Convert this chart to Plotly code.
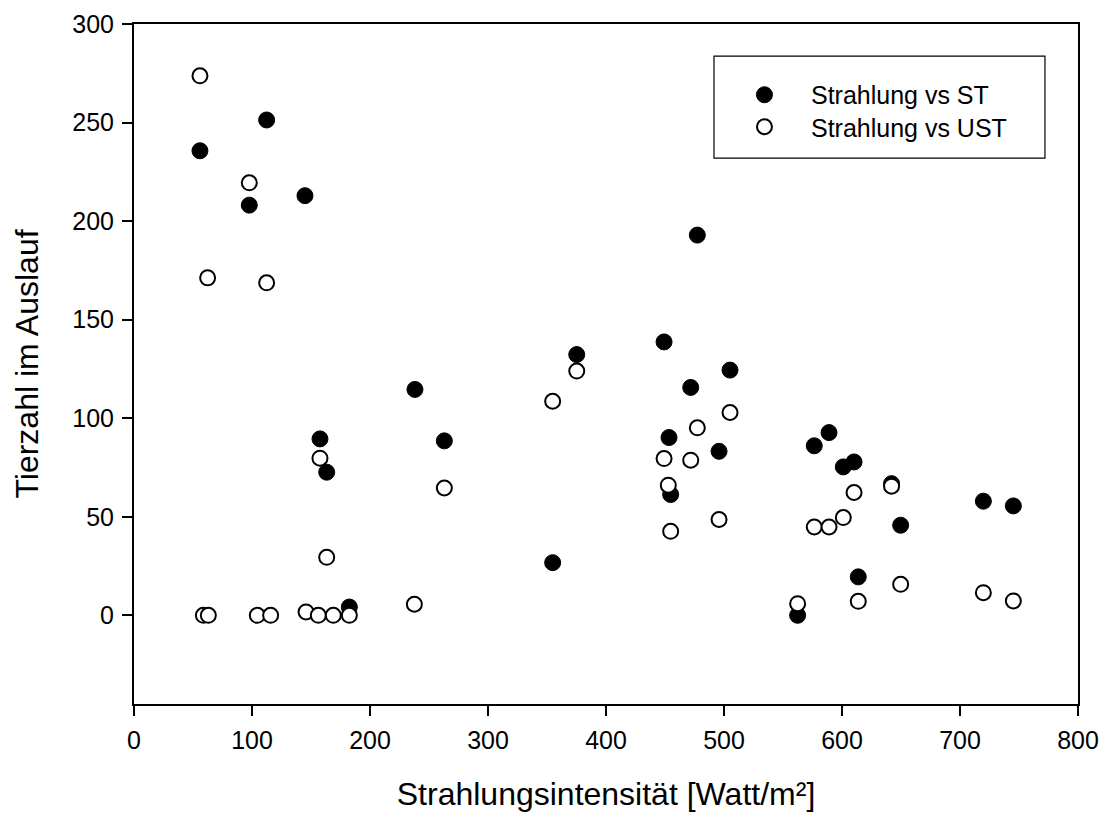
import plotly.graph_objects as go

# Strahlung vs ST (filled)
st_x = [55.9, 97.7, 112.4, 144.9, 157.6, 163.3, 182.5, 238.1, 263.0, 354.8,
        375.2, 449.2, 453.4, 454.8, 471.8, 477.4, 495.8, 505.1, 562.4, 576.5,
        589.0, 601.1, 610.2, 613.8, 642.0, 649.7, 719.8, 745.2]
st_y = [235.7, 208.1, 251.3, 212.9, 89.5, 72.6, 4.2, 114.6, 88.5, 26.7,
        132.3, 138.7, 90.2, 61.3, 115.6, 192.9, 83.2, 124.4, 0.0, 86.0,
        92.7, 75.3, 77.8, 19.5, 66.8, 45.7, 57.9, 55.5]

# Strahlung vs UST (open)
ust_x = [55.9, 62.4, 58.8, 63.0, 97.7, 104.5, 112.4, 115.8, 145.8, 156.2,
         157.6, 163.3, 168.9, 182.5, 237.6, 263.0, 354.8, 375.2, 449.2, 452.8,
         454.8, 471.8, 477.4, 495.8, 505.1, 562.4, 576.5, 589.0, 601.1, 610.2,
         613.8, 642.0, 649.7, 719.8, 745.2]
ust_y = [273.7, 171.2, 0.0, 0.0, 219.4, 0.0, 168.7, 0.0, 1.7, 0.0,
         79.7, 29.4, 0.0, 0.0, 5.6, 64.6, 108.6, 123.9, 79.5, 66.0,
         42.6, 78.7, 95.1, 48.6, 102.9, 5.9, 44.8, 44.8, 49.6, 62.3,
         7.1, 65.5, 15.7, 11.5, 7.3]

x_ticks = [0, 100, 200, 300, 400, 500, 600, 700, 800]
y_ticks = [0, 50, 100, 150, 200, 250, 300]

FONT = "Arial, 'Liberation Sans', sans-serif"

fig = go.Figure()
fig.add_trace(go.Scatter(
    x=st_x, y=st_y, mode="markers", name="Strahlung vs ST", legend="legend",
    marker=dict(symbol="circle", size=16, color="black",
                line=dict(color="black", width=1)),
))
fig.add_trace(go.Scatter(
    x=ust_x, y=ust_y, mode="markers", name="Strahlung vs UST", legend="legend2",
    marker=dict(symbol="circle", size=15, color="white",
                line=dict(color="black", width=2)),
))

axis_common = dict(
    showgrid=False, zeroline=False, showline=True, linecolor="black",
    linewidth=2, mirror=True, ticks="outside", ticklen=10, tickwidth=2,
    tickcolor="black", ticklabelstandoff=3, automargin=False,
    tickfont=dict(family=FONT, size=25, color="black"),
)

legend_common = dict(xanchor="left", yanchor="middle",
                     bgcolor="rgba(0,0,0,0)", borderwidth=0, itemwidth=83,
                     font=dict(family=FONT, size=25, color="black"))

fig.update_layout(
    width=1105, height=814,
    margin=dict(l=134, r=27, t=24, b=110),
    paper_bgcolor="white", plot_bgcolor="white",
    font=dict(family=FONT, color="black"),
    xaxis=dict(range=[0, 800], tickvals=x_ticks,
               title=dict(text="Strahlungsintensität [Watt/m²]",
                          font=dict(family=FONT, size=32), standoff=30),
               **axis_common),
    yaxis=dict(range=[-45, 300], tickvals=y_ticks,
               title=dict(text="Tierzahl im Auslauf",
                          font=dict(family=FONT, size=32), standoff=24),
               **axis_common),
    showlegend=True,
    legend=dict(x=0.6186, y=0.8956, **legend_common),
    legend2=dict(x=0.6186, y=0.8485, **legend_common),
    shapes=[dict(type="rect", xref="paper", yref="paper",
                 x0=0.6144, x1=0.965, y0=0.8029, y1=0.9529,
                 line=dict(color="black", width=1.2),
                 fillcolor="rgba(0,0,0,0)", layer="below")],
)

fig.write_html("out.html")
